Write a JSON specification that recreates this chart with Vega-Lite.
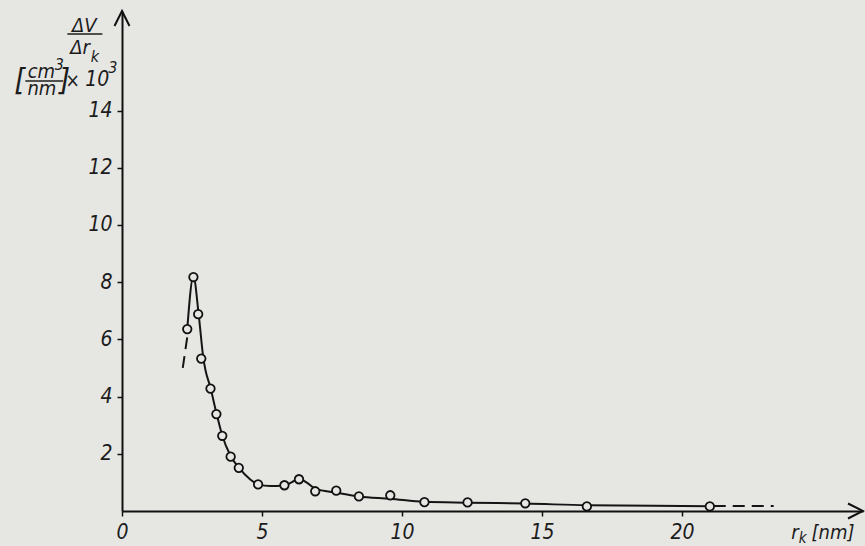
{
  "$schema": "https://vega.github.io/schema/vega-lite/v6.json",
  "width": 741,
  "height": 500,
  "autosize": {"type": "none"},
  "padding": {"left": 122, "top": 11, "right": 2, "bottom": 35},
  "background": "#e6e6e3",
  "config": {
    "view": {"stroke": null},
    "font": "Liberation Sans Narrow, DejaVu Sans Condensed, sans-serif",
    "text": {"font": "Liberation Sans Narrow, DejaVu Sans Condensed, sans-serif", "fontStyle": "italic", "color": "#1c1c1c", "fontSize": 20}
  },
  "datasets": {
    "points": [
      {"r": 2.33, "v": 6.36}, {"r": 2.55, "v": 8.18}, {"r": 2.72, "v": 6.88}, {"r": 2.83, "v": 5.33},
      {"r": 3.16, "v": 4.28}, {"r": 3.37, "v": 3.39}, {"r": 3.58, "v": 2.63}, {"r": 3.88, "v": 1.9},
      {"r": 4.17, "v": 1.51}, {"r": 4.86, "v": 0.93}, {"r": 5.8, "v": 0.9}, {"r": 6.32, "v": 1.11},
      {"r": 6.9, "v": 0.69}, {"r": 7.65, "v": 0.71}, {"r": 8.46, "v": 0.51}, {"r": 9.58, "v": 0.55},
      {"r": 10.8, "v": 0.31}, {"r": 12.34, "v": 0.3}, {"r": 14.4, "v": 0.27}, {"r": 16.6, "v": 0.16},
      {"r": 20.99, "v": 0.16}
    ],
    "curve": [
      {"r": 2.33, "v": 6.36}, {"r": 2.55, "v": 8.2}, {"r": 2.74, "v": 6.85}, {"r": 2.91, "v": 5.31},
      {"r": 2.98, "v": 4.93}, {"r": 3.15, "v": 4.34}, {"r": 3.37, "v": 3.43}, {"r": 3.58, "v": 2.64},
      {"r": 3.87, "v": 1.94}, {"r": 4.16, "v": 1.53}, {"r": 4.58, "v": 1.1}, {"r": 4.86, "v": 0.93},
      {"r": 5.3, "v": 0.87}, {"r": 5.77, "v": 0.89}, {"r": 6.07, "v": 1.01}, {"r": 6.32, "v": 1.13},
      {"r": 6.6, "v": 0.99}, {"r": 6.9, "v": 0.78}, {"r": 7.65, "v": 0.64}, {"r": 8.46, "v": 0.51},
      {"r": 9.58, "v": 0.43}, {"r": 10.8, "v": 0.32}, {"r": 12.34, "v": 0.29}, {"r": 14.4, "v": 0.26},
      {"r": 16.6, "v": 0.2}, {"r": 19.0, "v": 0.18}, {"r": 21.0, "v": 0.17}
    ],
    "dashed": [
      {"seg": "a", "r": 2.17, "v": 5.0}, {"seg": "a", "r": 2.34, "v": 6.15},
      {"seg": "b", "r": 21.13, "v": 0.175}, {"seg": "b", "r": 23.27, "v": 0.175}
    ],
    "one": [{}]
  },
  "layer": [
    {
      "data": {"name": "curve"},
      "mark": {"type": "line", "interpolate": "monotone", "color": "#151515", "strokeWidth": 2},
      "encoding": {
        "x": {
          "field": "r", "type": "quantitative",
          "scale": {"domain": [0, 26.46], "nice": false, "zero": false},
          "axis": {
            "title": null, "values": [0, 5, 10, 15, 20], "grid": false,
            "domainColor": "#111", "domainWidth": 2, "tickColor": "#111", "tickWidth": 1.5, "tickSize": 5,
            "labelFont": "Liberation Sans Narrow, DejaVu Sans Condensed, sans-serif", "labelFontStyle": "italic",
            "labelFontSize": 21, "labelColor": "#1c1c1c", "labelPadding": 5, "labelFlush": false, "labelOverlap": false
          }
        },
        "y": {
          "field": "v", "type": "quantitative",
          "scale": {"domain": [0, 17.48], "nice": false},
          "axis": {
            "title": null, "values": [2, 4, 6, 8, 10, 12, 14], "grid": false,
            "domainColor": "#111", "domainWidth": 2, "tickColor": "#111", "tickWidth": 1.5, "tickSize": 5,
            "labelFont": "Liberation Sans Narrow, DejaVu Sans Condensed, sans-serif", "labelFontStyle": "italic",
            "labelFontSize": 21, "labelColor": "#1c1c1c", "labelPadding": 5, "labelOverlap": false
          }
        }
      }
    },
    {
      "data": {"name": "dashed"},
      "mark": {"type": "line", "color": "#151515", "strokeWidth": 2, "strokeDash": [12, 7]},
      "encoding": {
        "x": {"field": "r", "type": "quantitative"},
        "y": {"field": "v", "type": "quantitative"},
        "detail": {"field": "seg"}
      }
    },
    {
      "data": {"name": "points"},
      "mark": {"type": "point", "shape": "circle", "filled": true, "fill": "#e6e6e3", "stroke": "#111", "strokeWidth": 1.8, "size": 72, "opacity": 1},
      "encoding": {
        "x": {"field": "r", "type": "quantitative"},
        "y": {"field": "v", "type": "quantitative"}
      }
    },
    {
      "data": {"name": "one"},
      "mark": {"type": "point", "shape": "M -1 2 L 0 0 L 1 2", "filled": false, "stroke": "#111", "strokeWidth": 2, "size": 225, "opacity": 1},
      "encoding": {"x": {"datum": 0}, "y": {"datum": 17.48}}
    },
    {
      "data": {"name": "one"},
      "mark": {"type": "point", "shape": "M -2 -1 L 0 0 L -2 1", "filled": false, "stroke": "#111", "strokeWidth": 2, "size": 225, "opacity": 1},
      "encoding": {"x": {"datum": 26.46}, "y": {"datum": 0}}
    },
    {
      "data": {"name": "one"},
      "mark": {"type": "text", "text": "ΔV", "align": "center", "baseline": "middle"},
      "encoding": {"x": {"datum": -1.35}, "y": {"datum": 16.96}}
    },
    {
      "data": {"name": "one"},
      "mark": {"type": "rule", "color": "#1c1c1c", "strokeWidth": 1.5},
      "encoding": {"x": {"datum": -1.95}, "x2": {"datum": -0.7}, "y": {"datum": 16.68}}
    },
    {
      "data": {"name": "one"},
      "mark": {"type": "text", "text": "Δr", "align": "center", "baseline": "middle"},
      "encoding": {"x": {"datum": -1.5}, "y": {"datum": 16.2}}
    },
    {
      "data": {"name": "one"},
      "mark": {"type": "text", "text": "k", "align": "center", "baseline": "middle", "fontSize": 16},
      "encoding": {"x": {"datum": -0.97}, "y": {"datum": 15.88}}
    },
    {
      "data": {"name": "one"},
      "mark": {"type": "text", "text": "[", "align": "center", "baseline": "middle", "fontSize": 31},
      "encoding": {"x": {"datum": -3.65}, "y": {"datum": 15.02}}
    },
    {
      "data": {"name": "one"},
      "mark": {"type": "text", "text": "cm", "align": "center", "baseline": "middle", "fontSize": 20},
      "encoding": {"x": {"datum": -2.88}, "y": {"datum": 15.33}}
    },
    {
      "data": {"name": "one"},
      "mark": {"type": "text", "text": "3", "align": "center", "baseline": "middle", "fontSize": 16},
      "encoding": {"x": {"datum": -2.24}, "y": {"datum": 15.58}}
    },
    {
      "data": {"name": "one"},
      "mark": {"type": "rule", "color": "#1c1c1c", "strokeWidth": 1.5},
      "encoding": {"x": {"datum": -3.45}, "x2": {"datum": -2.1}, "y": {"datum": 15.03}}
    },
    {
      "data": {"name": "one"},
      "mark": {"type": "text", "text": "nm", "align": "center", "baseline": "middle", "fontSize": 20},
      "encoding": {"x": {"datum": -2.86}, "y": {"datum": 14.74}}
    },
    {
      "data": {"name": "one"},
      "mark": {"type": "text", "text": "]", "align": "center", "baseline": "middle", "fontSize": 31},
      "encoding": {"x": {"datum": -2.05}, "y": {"datum": 15.02}}
    },
    {
      "data": {"name": "one"},
      "mark": {"type": "text", "text": "×", "align": "center", "baseline": "middle", "fontSize": 19},
      "encoding": {"x": {"datum": -1.76}, "y": {"datum": 15.05}}
    },
    {
      "data": {"name": "one"},
      "mark": {"type": "text", "text": "10", "align": "center", "baseline": "middle", "fontSize": 21},
      "encoding": {"x": {"datum": -0.88}, "y": {"datum": 15.07}}
    },
    {
      "data": {"name": "one"},
      "mark": {"type": "text", "text": "3", "align": "center", "baseline": "middle", "fontSize": 16},
      "encoding": {"x": {"datum": -0.33}, "y": {"datum": 15.5}}
    },
    {
      "data": {"name": "one"},
      "mark": {"type": "text", "text": "r", "align": "left", "baseline": "middle", "fontSize": 20},
      "encoding": {"x": {"datum": 23.9}, "y": {"datum": -0.78}}
    },
    {
      "data": {"name": "one"},
      "mark": {"type": "text", "text": "k", "align": "left", "baseline": "middle", "fontSize": 15},
      "encoding": {"x": {"datum": 24.17}, "y": {"datum": -0.95}}
    },
    {
      "data": {"name": "one"},
      "mark": {"type": "text", "text": "[nm]", "align": "left", "baseline": "middle", "fontSize": 20},
      "encoding": {"x": {"datum": 24.62}, "y": {"datum": -0.78}}
    }
  ]
}
